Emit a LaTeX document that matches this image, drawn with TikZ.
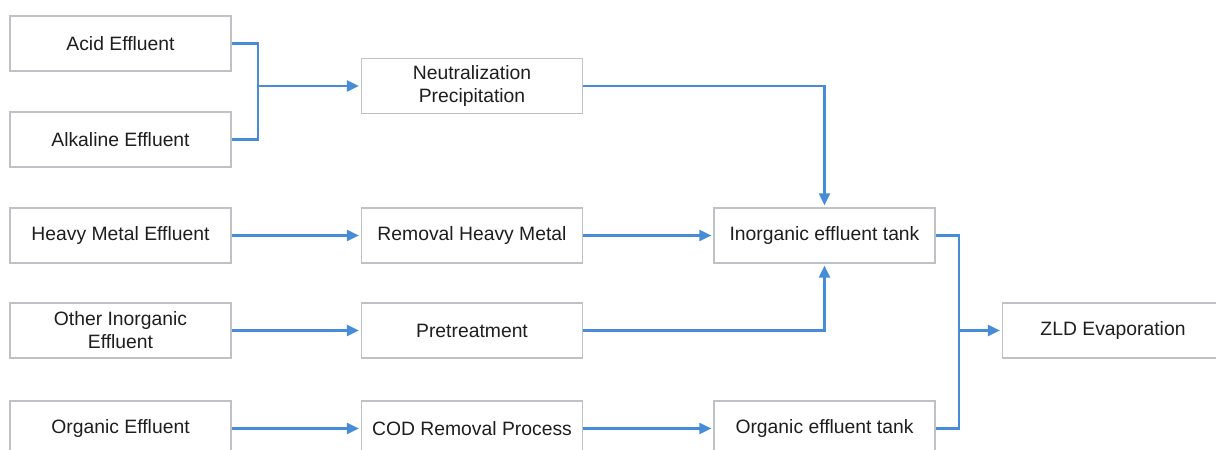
\documentclass[tikz,border=0pt]{standalone}
\usepackage{fontspec}
\setmainfont{Liberation Sans}
\usepackage{xcolor}
\usepackage{tikz}
\usetikzlibrary{arrows.meta}
\definecolor{flowblue}{RGB}{70,140,214}
\definecolor{boxgray}{RGB}{190,194,198}
\definecolor{txtgray}{RGB}{30,30,30}

\begin{document}
\begin{tikzpicture}[x={(0.2mm,0mm)}, y={(0mm,-0.2mm)},
  box/.style={draw=boxgray, line width=0.7pt, minimum width=44.2mm, minimum height=11mm,
    inner sep=1pt, align=center, text=txtgray, font=\fontsize{11}{13}\selectfont},
  flow/.style={draw=flowblue, line width=1.2pt},
  arr/.style={flow, shorten >=0.4mm, -{Triangle[length=2.4mm, width=2.2mm]}}]% one unit = one pixel of the reference
\useasboundingbox (0,0) rectangle (1216,450);
% inputs
\node[box] (acid) at (120.5, 43.5) {Acid Effluent};
\node[box] (alk) at (120.5, 139.5) {Alkaline Effluent};
\node[box] (heavy) at (120.5, 235.5) {Heavy Metal Effluent};
\node[box] (other) at (120.5, 330.5) {Other Inorganic\\Effluent};
\node[box] (org) at (120.5, 428.5) {Organic Effluent};
% treatment
\node[box] (neut) at (472, 86) {Neutralization\\Precipitation};
\node[box] (rhm) at (472, 235.5) {Removal Heavy Metal};
\node[box] (pre) at (472, 330.5) {Pretreatment};
\node[box] (cod) at (472, 428.5) {COD Removal Process};
% tanks
\node[box] (itank) at (824.5, 235.5) {Inorganic effluent tank};
\node[box] (otank) at (824.5, 428.5) {Organic effluent tank};
\node[box] (zld) at (1113, 330.5) {ZLD Evaporation};
\coordinate (j1) at (258, 86);
\coordinate (j2) at (959, 330.5);
% connectors
\draw[flow] (acid.east) -| (j1);
\draw[flow] (alk.east) -| (j1);
\draw[arr] (j1) -- (neut.west);
\draw[arr] (neut.east) -| (itank.north);
\draw[arr] (heavy.east) -- (rhm.west);
\draw[arr] (rhm.east) -- (itank.west);
\draw[arr] (other.east) -- (pre.west);
\draw[arr] (pre.east) -| (itank.south);
\draw[arr] (org.east) -- (cod.west);
\draw[arr] (cod.east) -- (otank.west);
\draw[flow] (itank.east) -| (j2);
\draw[flow] (otank.east) -| (j2);
\draw[arr] (j2) -- (zld.west);
\end{tikzpicture}
\end{document}
